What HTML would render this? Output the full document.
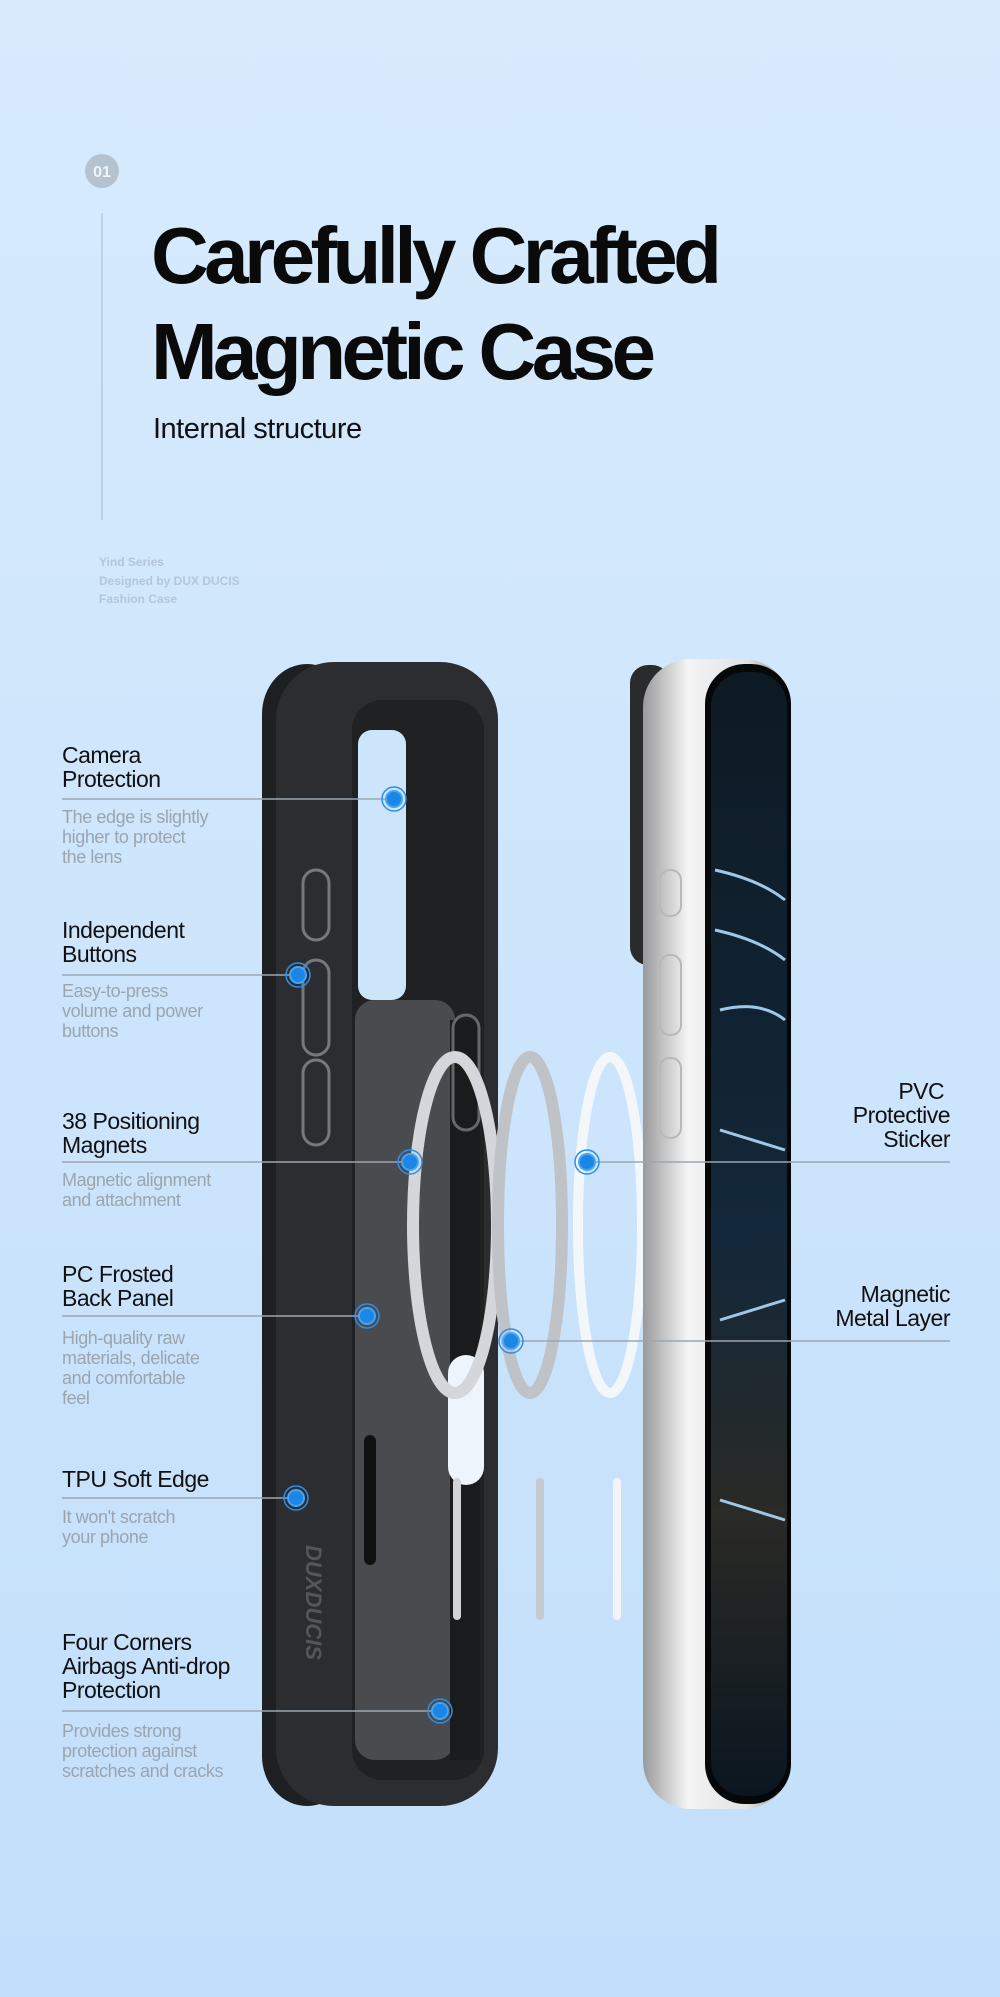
<!DOCTYPE html>
<html><head><meta charset="utf-8"><style>
html,body{margin:0;padding:0}
body{width:1000px;height:1997px;position:relative;overflow:hidden;background:linear-gradient(180deg,#d8ebfd 0%,#cfe6fc 40%,#c3dffb 100%);font-family:"Liberation Sans",sans-serif}
.a{position:absolute;white-space:nowrap}
.t{font-size:23px;line-height:24px;color:#111;letter-spacing:-0.5px}
.d{font-size:18px;line-height:20px;color:#9aa5b0;letter-spacing:-0.4px}
.r{text-align:right}
</style></head><body>
<svg width="1000" height="1997" style="position:absolute;left:0;top:0">
<defs>
<linearGradient id="sil" x1="0" x2="1"><stop offset="0" stop-color="#9a9a9c"/><stop offset="0.3" stop-color="#f4f4f4"/><stop offset="0.7" stop-color="#e2e2e2"/><stop offset="1" stop-color="#8a8a8c"/></linearGradient>
<linearGradient id="scr" x1="0" y1="0" x2="0" y2="1"><stop offset="0" stop-color="#0d1a24"/><stop offset="0.5" stop-color="#13283a"/><stop offset="0.75" stop-color="#2a2a26"/><stop offset="1" stop-color="#0b1620"/></linearGradient>
</defs>
<circle cx="102" cy="171" r="17" fill="#b5c3d1"/>
<text x="102" y="177" font-size="16" font-weight="bold" fill="#eef4fa" text-anchor="middle" font-family="Liberation Sans">01</text>
<line x1="102" y1="213" x2="102" y2="520" stroke="#a9b8c6" stroke-width="1"/>
<rect x="262" y="664" width="90" height="1142" rx="50" fill="#1e1f21"/>
<rect x="276" y="662" width="222" height="1144" rx="58" fill="#2c2d30"/>
<rect x="352" y="700" width="132" height="1080" rx="30" fill="#202123"/>
<rect x="358" y="730" width="48" height="270" rx="14" fill="#cde5fb"/>
<rect x="355" y="1000" width="100" height="760" rx="20" fill="#4a4b4e"/>
<rect x="450" y="1020" width="30" height="740" fill="#1a1b1d"/>
<rect x="303" y="870" width="26" height="70" rx="13" fill="none" stroke="#77787b" stroke-width="3"/>
<rect x="303" y="960" width="26" height="95" rx="13" fill="none" stroke="#77787b" stroke-width="3"/>
<rect x="303" y="1060" width="26" height="85" rx="13" fill="none" stroke="#77787b" stroke-width="3"/>
<rect x="453" y="1015" width="26" height="115" rx="13" fill="none" stroke="#66676a" stroke-width="3"/>
<rect x="448" y="1355" width="36" height="130" rx="18" fill="#eef4fb"/>
<rect x="364" y="1435" width="12" height="130" rx="6" fill="#111"/>
<text x="0" y="0" transform="translate(306,1545) rotate(90)" font-size="22" font-weight="bold" fill="#55565a" font-style="italic" font-family="Liberation Sans">DUXDUCIS</text>
<ellipse cx="455" cy="1225" rx="42" ry="168" fill="none" stroke="#d3d6da" stroke-width="12"/>
<ellipse cx="530" cy="1225" rx="32" ry="168" fill="none" stroke="#bfc3c8" stroke-width="12"/>
<ellipse cx="610" cy="1225" rx="32" ry="168" fill="none" stroke="#f4f7fa" stroke-width="10"/>
<rect x="453" y="1478" width="8" height="142" rx="4" fill="#d0d3d7"/>
<rect x="536" y="1478" width="8" height="142" rx="4" fill="#c6c9cd"/>
<rect x="613" y="1478" width="8" height="142" rx="4" fill="#f2f4f6"/>
<rect x="630" y="665" width="40" height="300" rx="18" fill="#2a2b2d"/>
<rect x="643" y="659" width="148" height="1150" rx="48" fill="url(#sil)"/>
<rect x="705" y="664" width="86" height="1140" rx="40" fill="#050709"/>
<rect x="711" y="672" width="76" height="1124" rx="34" fill="url(#scr)"/>
<path d="M715 870 Q760 880 785 900 M715 930 Q760 940 785 960 M720 1010 Q760 1000 785 1020 M720 1130 L785 1150 M720 1320 L785 1300 M720 1500 L785 1520" stroke="#9fc8e8" stroke-width="3" fill="none"/>
<rect x="660" y="870" width="21" height="46" rx="10" fill="none" stroke="#b8b8ba" stroke-width="2"/>
<rect x="660" y="955" width="21" height="80" rx="10" fill="none" stroke="#b8b8ba" stroke-width="2"/>
<rect x="660" y="1058" width="21" height="80" rx="10" fill="none" stroke="#b8b8ba" stroke-width="2"/>
<g stroke="#9ba6b1" stroke-width="1.5">
<line x1="62" y1="799" x2="394" y2="799"/>
<line x1="62" y1="975" x2="298" y2="975"/>
<line x1="62" y1="1162" x2="410" y2="1162"/>
<line x1="62" y1="1316" x2="367" y2="1316"/>
<line x1="62" y1="1498" x2="296" y2="1498"/>
<line x1="62" y1="1711" x2="440" y2="1711"/>
<line x1="587" y1="1162" x2="950" y2="1162"/>
<line x1="511" y1="1341" x2="950" y2="1341"/>
</g>
<g fill="#1a86e8" stroke="#4aa3f0" stroke-width="2">
<circle cx="394" cy="799" r="8"/><circle cx="298" cy="975" r="8"/><circle cx="410" cy="1162" r="8"/>
<circle cx="367" cy="1316" r="8"/><circle cx="296" cy="1498" r="8"/><circle cx="440" cy="1711" r="8"/>
<circle cx="587" cy="1162" r="8"/><circle cx="511" cy="1341" r="8"/>
</g>
<g fill="none" stroke="#2d8fea" stroke-width="1.5">
<circle cx="394" cy="799" r="12"/><circle cx="298" cy="975" r="12"/><circle cx="410" cy="1162" r="12"/>
<circle cx="367" cy="1316" r="12"/><circle cx="296" cy="1498" r="12"/><circle cx="440" cy="1711" r="12"/>
<circle cx="587" cy="1162" r="12"/><circle cx="511" cy="1341" r="12"/>
</g>
</svg>
<div class="a" style="left:151px;top:208px;font-size:80px;line-height:96px;font-weight:bold;letter-spacing:-4.6px;color:#0a0a0a">Carefully Crafted<br>Magnetic Case</div>
<div class="a" style="left:153px;top:413px;font-size:29px;color:#111;letter-spacing:-0.5px">Internal structure</div>
<div class="a" style="left:99px;top:553px;font-size:12px;line-height:18.5px;color:#b4c6d8;font-weight:bold">Yind Series<br>Designed by DUX DUCIS<br>Fashion Case</div>
<div class="a t" style="left:62px;top:743px">Camera<br>Protection</div>
<div class="a d" style="left:62px;top:807px">The edge is slightly<br>higher to protect<br>the lens</div>
<div class="a t" style="left:62px;top:918px">Independent<br>Buttons</div>
<div class="a d" style="left:62px;top:981px">Easy-to-press<br>volume and power<br>buttons</div>
<div class="a t" style="left:62px;top:1109px">38 Positioning<br>Magnets</div>
<div class="a d" style="left:62px;top:1170px">Magnetic alignment<br>and attachment</div>
<div class="a t" style="left:62px;top:1262px">PC Frosted<br>Back Panel</div>
<div class="a d" style="left:62px;top:1328px">High-quality raw<br>materials, delicate<br>and comfortable<br>feel</div>
<div class="a t" style="left:62px;top:1467px">TPU Soft Edge</div>
<div class="a d" style="left:62px;top:1507px">It won't scratch<br>your phone</div>
<div class="a t" style="left:62px;top:1630px">Four Corners<br>Airbags Anti-drop<br>Protection</div>
<div class="a d" style="left:62px;top:1721px">Provides strong<br>protection against<br>scratches and cracks</div>
<div class="a t r" style="right:50px;top:1079px">PVC&nbsp;<br>Protective<br>Sticker</div>
<div class="a t r" style="right:50px;top:1282px">Magnetic<br>Metal Layer</div>
</body></html>
